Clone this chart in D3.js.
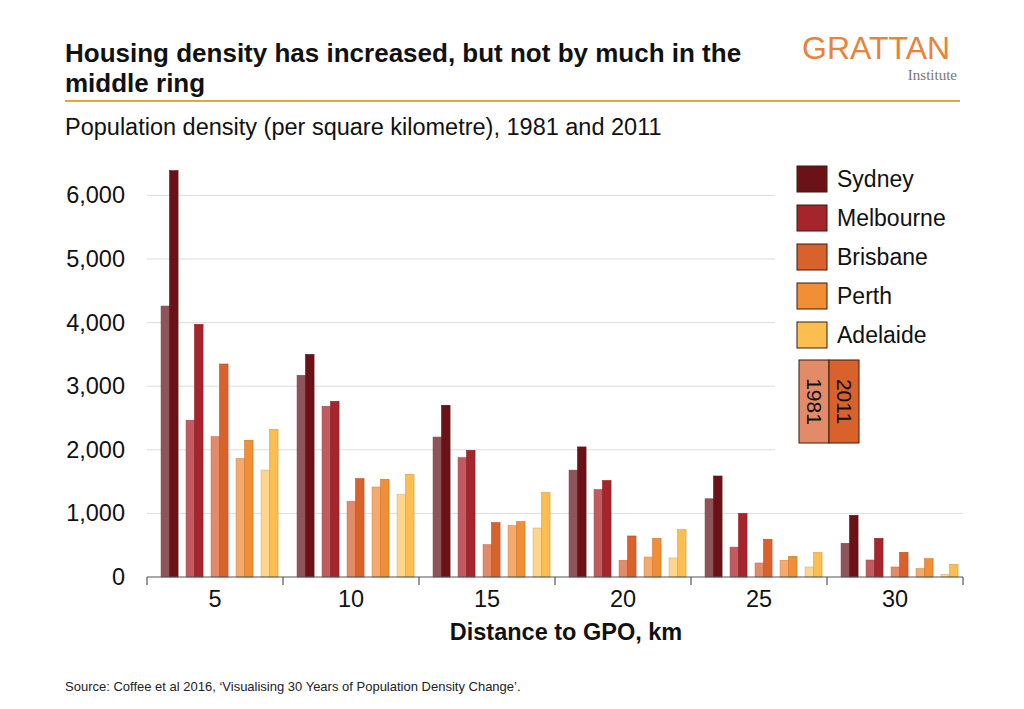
<!DOCTYPE html>
<html>
<head>
<meta charset="utf-8">
<script src="https://cdn.jsdelivr.net/npm/d3@7"></script>
<style>
  body { margin: 0; background: #fff; }
  text { font-family: "Liberation Sans", Arial, sans-serif; fill: #111; }
</style>
</head>
<body>
<div id="chart"></div>
<script>
// distance bands (km from GPO) and cities
const distances = ["5", "10", "15", "20", "25", "30"];
const cities = ["Sydney", "Melbourne", "Brisbane", "Perth", "Adelaide"];
const years = ["1981", "2011"];

// population density, people per sq km
const sydney1981 = [4260, 3170, 2200, 1680, 1230, 530];
const sydney2011 = [6390, 3500, 2700, 2045, 1588, 970];
const melbourne1981 = [2465, 2685, 1877, 1374, 470, 267];
const melbourne2011 = [3973, 2762, 1992, 1516, 1000, 608];
const brisbane1981 = [2207, 1190, 509, 263, 220, 157];
const brisbane2011 = [3349, 1547, 855, 645, 593, 388];
const perth1981 = [1861, 1415, 808, 314, 262, 132];
const perth2011 = [2149, 1536, 871, 608, 325, 289];
const adelaide1981 = [1682, 1295, 770, 299, 157, 38];
const adelaide2011 = [2322, 1615, 1327, 745, 383, 200];

const yTicks = [0, 1000, 2000, 3000, 4000, 5000, 6000];

const series = {
    Sydney: { "1981": sydney1981, "2011": sydney2011 },
    Melbourne: { "1981": melbourne1981, "2011": melbourne2011 },
    Brisbane: { "1981": brisbane1981, "2011": brisbane2011 },
    Perth: { "1981": perth1981, "2011": perth2011 },
    Adelaide: { "1981": adelaide1981, "2011": adelaide2011 }
};

// colours: light shade for 1981, full shade for 2011
const colors = {
    Sydney: { "1981": "#8f5459", "2011": "#6a1218" },
    Melbourne: { "1981": "#c25b60", "2011": "#a6242b" },
    Brisbane: { "1981": "#e38b69", "2011": "#d8612c" },
    Perth: { "1981": "#f6a96b", "2011": "#f28e35" },
    Adelaide: { "1981": "#fdd58c", "2011": "#fcbe50" }
};

const svg = d3.select("#chart")
    .append("svg")
    .attr("width", 1024)
    .attr("height", 709);

// header
svg.append("text").attr("x", 65).attr("y", 62)
    .text("Housing density has increased, but not by much in the")
    .style("font-size", "26px").style("font-weight", "bold");
svg.append("text").attr("x", 65).attr("y", 92)
    .text("middle ring")
    .style("font-size", "26px").style("font-weight", "bold");
svg.append("line").attr("x1", 65).attr("x2", 960).attr("y1", 101).attr("y2", 101)
    .attr("stroke", "#e6a835").attr("stroke-width", 2);
svg.append("text").attr("x", 65).attr("y", 135)
    .text("Population density (per square kilometre), 1981 and 2011")
    .style("font-size", "23.5px");

// logo
svg.append("text").attr("x", 802).attr("y", 59)
    .text("GRATTAN")
    .style("font-size", "32px").style("fill", "#e8833a");
svg.append("text").attr("x", 957).attr("y", 80).attr("text-anchor", "end")
    .text("Institute")
    .style("font-family", "'Liberation Serif', serif")
    .style("font-size", "15px").style("fill", "#777");

// scales
const x0 = d3.scaleBand().domain(distances).range([147, 963]).padding(0);
const x1 = d3.scaleBand().domain(cities).range([0, x0.bandwidth()])
    .paddingInner(0.32).paddingOuter(0.38).align(0.74);
const x2 = d3.scaleBand().domain(years).range([0, x1.bandwidth()]);
const y = d3.scaleLinear().domain([0, 6600]).range([577, 577 - 6600 * 0.0636]);

// gridlines
svg.append("g")
    .selectAll("line")
    .data(yTicks.filter(d => d > 0))
    .join("line")
    .attr("x1", 147).attr("x2", 963)
    .attr("y1", d => y(d)).attr("y2", d => y(d))
    .attr("stroke", "#dcdcdc").attr("stroke-width", 1);

// y axis labels
const yAxis = svg.append("g")
    .attr("transform", "translate(147,0)")
    .call(d3.axisLeft(y).tickValues(yTicks).tickFormat(d3.format(",")).tickSize(0).tickPadding(22));
yAxis.select(".domain").remove();
yAxis.selectAll("text").style("font-size", "23.5px").style("font-family", "'Liberation Sans', Arial, sans-serif").attr("fill", "#111");

// flatten to bars
const bars = [];
distances.forEach((dist, i) => {
    cities.forEach(city => {
        years.forEach(yr => {
            bars.push({ dist: dist, city: city, year: yr, value: series[city][yr][i] });
        });
    });
});

svg.append("g")
    .selectAll("rect")
    .data(bars)
    .join("rect")
    .attr("x", d => x0(d.dist) + x1(d.city) + x2(d.year))
    .attr("y", d => y(d.value))
    .attr("width", x2.bandwidth())
    .attr("height", d => y(0) - y(d.value))
    .attr("fill", d => colors[d.city][d.year])
    .attr("stroke", d => d3.color(colors[d.city][d.year]).darker(0.5))
    .attr("stroke-width", 0.6);

// legend background hides gridlines behind it
svg.append("rect").attr("x", 775).attr("y", 150).attr("width", 190).attr("height", 345)
    .attr("fill", "#fff");

// x axis
svg.append("line").attr("x1", 147).attr("x2", 963).attr("y1", y(0)).attr("y2", y(0))
    .attr("stroke", "#555").attr("stroke-width", 1.2);
const bounds = distances.map(d => x0(d)).concat([x0(distances[distances.length - 1]) + x0.bandwidth()]);
svg.append("g")
    .selectAll("line")
    .data(bounds)
    .join("line")
    .attr("x1", d => d).attr("x2", d => d)
    .attr("y1", y(0)).attr("y2", y(0) + 8)
    .attr("stroke", "#555").attr("stroke-width", 1.2);
const xAxis = svg.append("g")
    .attr("transform", `translate(0, ${y(0)})`)
    .call(d3.axisBottom(x0).tickSize(0).tickPadding(13));
xAxis.select(".domain").remove();
xAxis.selectAll("text").style("font-size", "23.5px").style("font-family", "'Liberation Sans', Arial, sans-serif").attr("fill", "#111");

svg.append("text").attr("x", 566).attr("y", 640).attr("text-anchor", "middle")
    .text("Distance to GPO, km")
    .style("font-size", "23.5px").style("font-weight", "bold");

// city legend
const legend = svg.append("g").attr("transform", "translate(797,166)");
legend.selectAll("rect")
    .data(cities)
    .join("rect")
    .attr("x", 0).attr("y", (d, i) => i * 39)
    .attr("width", 30).attr("height", 26)
    .attr("fill", d => colors[d]["2011"])
    .attr("stroke", "#3a1a10").attr("stroke-width", 1);
legend.selectAll("text")
    .data(cities)
    .join("text")
    .attr("x", 40).attr("y", (d, i) => i * 39 + 21)
    .text(d => d)
    .style("font-size", "23px");

// year key
const key = svg.append("g").attr("transform", "translate(799,360)");
key.selectAll("rect")
    .data(years)
    .join("rect")
    .attr("x", (d, i) => i * 30).attr("y", 0)
    .attr("width", 30).attr("height", 83)
    .attr("fill", d => colors.Brisbane[d])
    .attr("stroke", "#3a1a10").attr("stroke-width", 1);
key.selectAll("text")
    .data(years)
    .join("text")
    .attr("transform", (d, i) => `translate(${i * 30 + 8},41.5) rotate(90)`)
    .attr("text-anchor", "middle")
    .text(d => d)
    .style("font-size", "21px");

// source
svg.append("text").attr("x", 65).attr("y", 691)
    .text("Source: Coffee et al 2016, \u2018Visualising 30 Years of Population Density Change\u2019.")
    .style("font-size", "13px").style("fill", "#222");
</script>
</body>
</html>
